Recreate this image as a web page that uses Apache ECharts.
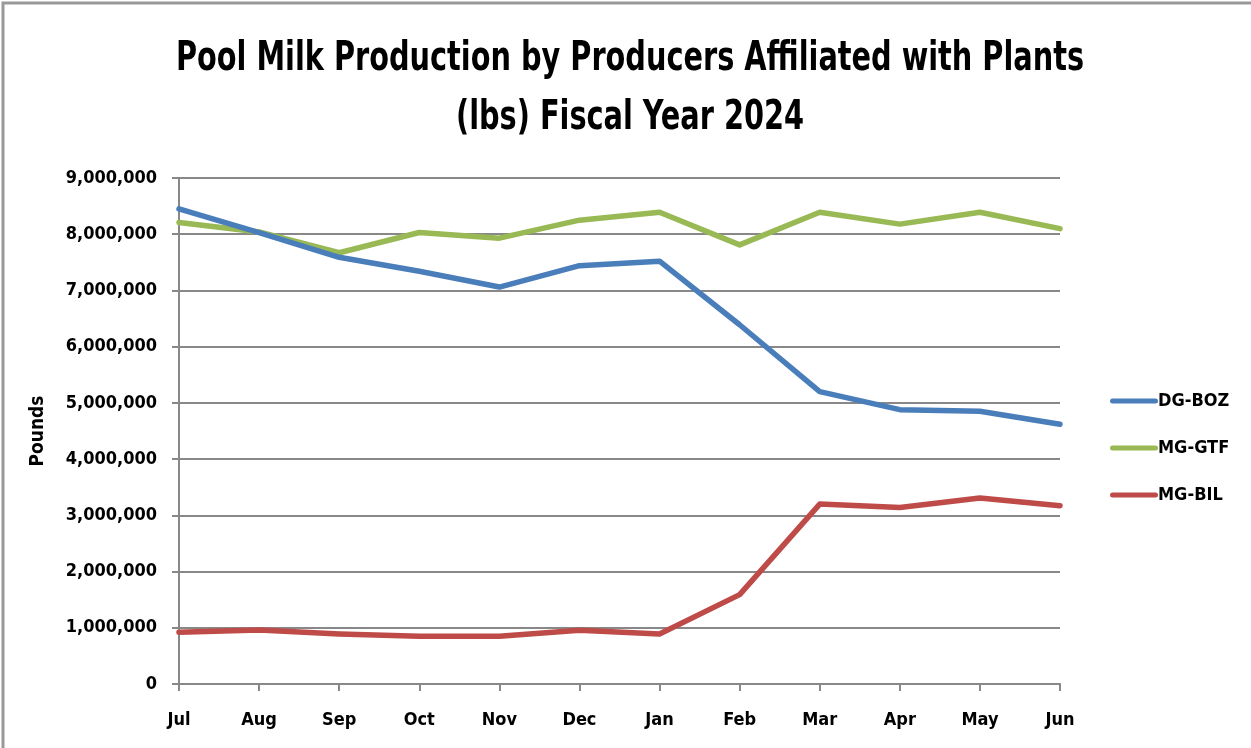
<!DOCTYPE html>
<html>
<head>
<meta charset="utf-8">
<script src="https://cdn.jsdelivr.net/npm/echarts@6/dist/echarts.min.js"></script>
<style>
  html, body { margin: 0; padding: 0; background: #fff; }
  #chart { width: 1251px; height: 748px; }
</style>
</head>
<body>
<div id="chart"></div>
<script>
// Fiscal year months (July through June)
const months = ['Jul', 'Aug', 'Sep', 'Oct', 'Nov', 'Dec', 'Jan', 'Feb', 'Mar', 'Apr', 'May', 'Jun'];

// Pool milk production per plant, pounds
const dgBoz = [8450000, 8030000, 7590000, 7340000, 7060000, 7440000, 7520000, 6390000, 5200000, 4880000, 4850000, 4620000];
const mgGtf = [8210000, 8040000, 7670000, 8030000, 7930000, 8250000, 8390000, 7810000, 8390000, 8180000, 8390000, 8100000];
const mgBil = [920000, 960000, 890000, 850000, 850000, 955000, 890000, 1590000, 3200000, 3140000, 3310000, 3170000];

const seriesNames = ['DG-BOZ', 'MG-GTF', 'MG-BIL'];
const seriesColors = ['#4a7ebb', '#98b954', '#be4b48'];

const titleLines = [
  'Pool Milk Production by Producers Affiliated with Plants',
  '(lbs) Fiscal Year 2024'
];

const FONT = '"Liberation Sans Narrow", "DejaVu Sans Condensed", "Open Sans", sans-serif';

const chart = echarts.init(document.getElementById('chart'));

const fmt = v => v.toLocaleString('en-US');

// Condensed bold title, drawn as two centred lines squeezed horizontally
const titleGraphics = titleLines.map((t, i) => ({
  type: 'text',
  x: 630,
  y: 59 + i * 59,
  scaleX: 0.78,
  silent: true,
  style: {
    text: t,
    fontFamily: FONT,
    fontWeight: 'bold',
    fontSize: 41,
    fill: '#000',
    align: 'center',
    verticalAlign: 'middle'
  }
}));

chart.setOption({
  backgroundColor: '#ffffff',
  animation: false,
  legend: {
    orient: 'vertical',
    left: 1105,
    top: 387,
    itemGap: 29,
    itemWidth: 48,
    itemHeight: 20,
    data: seriesNames.map(n => ({
      name: n,
      icon: 'path://M2.5,7.5 L45.5,7.5 A2.5,2.5 0 0 1 45.5,12.5 L2.5,12.5 A2.5,2.5 0 0 1 2.5,7.5 Z'
    })),
    textStyle: {
      fontFamily: FONT,
      fontWeight: 'bold',
      fontSize: 18,
      color: '#000',
      padding: [0, 0, 0, -5]
    }
  },
  grid: {
    left: 179,
    right: 191,
    top: 178,
    bottom: 64,
    containLabel: false
  },
  xAxis: {
    type: 'category',
    data: months,
    boundaryGap: false,
    axisLine: { lineStyle: { color: '#888', width: 2 } },
    axisTick: { show: true, length: 7, lineStyle: { color: '#888', width: 2 }, alignWithLabel: true },
    axisLabel: {
      fontFamily: FONT,
      fontWeight: 'bold',
      fontSize: 18,
      color: '#000',
      margin: 27,
      interval: 0
    },
    splitLine: { show: false }
  },
  yAxis: {
    type: 'value',
    min: 0,
    max: 9000000,
    interval: 1000000,
    name: 'Pounds',
    nameLocation: 'middle',
    nameGap: 131,
    nameRotate: 90,
    nameTextStyle: {
      fontFamily: FONT,
      fontWeight: 'bold',
      fontSize: 19,
      color: '#000'
    },
    axisLine: { show: true, lineStyle: { color: '#888', width: 2 } },
    axisTick: { show: true, length: 7, inside: false, lineStyle: { color: '#888', width: 2 } },
    axisLabel: {
      fontFamily: FONT,
      fontWeight: 'bold',
      fontSize: 18,
      color: '#000',
      margin: 22,
      formatter: v => fmt(v)
    },
    splitLine: { show: true, lineStyle: { color: '#888', width: 2 } }
  },
  graphic: [
    {
      type: 'polyline',
      shape: { points: [[3, 748], [3, 3], [1251, 3]] },
      style: { stroke: '#999', lineWidth: 3, fill: null },
      silent: true
    }
  ].concat(titleGraphics),
  series: [dgBoz, mgGtf, mgBil].map((d, i) => ({
    name: seriesNames[i],
    type: 'line',
    data: d,
    symbol: 'none',
    smooth: false,
    lineStyle: { color: seriesColors[i], width: 5.5, cap: 'round', join: 'round' },
    itemStyle: { color: seriesColors[i] },
    z: 5 - i
  }))
});
</script>
</body>
</html>
